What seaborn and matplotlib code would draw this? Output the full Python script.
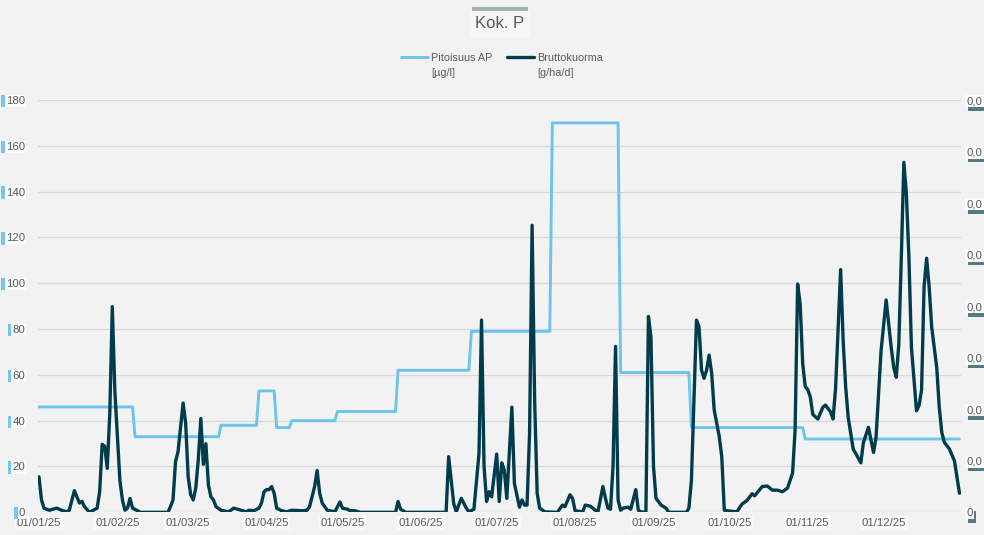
import numpy as np
import pandas as pd
import seaborn as sns
import matplotlib.pyplot as plt
import matplotlib.patheffects as pe
from matplotlib.patches import Rectangle

# Pitoisuus AP [ug/l] - step levels, first day of each level (0 = 1.1.2025)
ap_start_day = [0, 38, 72, 87, 94, 100, 118, 142, 171, 203, 230, 258, 303]
ap_value = [46, 33, 38, 53, 37, 40, 44, 62, 79, 170, 61, 37, 32]

# Bruttokuorma at its turning points (unit 0.001 g/ha/d)
brutto_day = [0, 1, 2, 4, 7, 9, 11, 12, 14, 15, 16, 17, 18, 20, 23, 24, 25, 26, 27, 28,
              29, 30, 32, 33, 34, 35, 36, 37, 39, 40, 51, 52, 53, 54, 55, 56, 57, 58, 59, 60,
              61, 62, 63, 64, 65, 66, 67, 68, 69, 70, 72, 75, 77, 80, 82, 83, 85, 87, 88, 89,
              90, 91, 92, 93, 94, 96, 98, 100, 104, 106, 107, 109, 110, 111, 112, 114, 117, 119, 120, 122,
              123, 125, 127, 141, 142, 143, 145, 161, 162, 164, 165, 167, 169, 170, 172, 174, 175, 176, 177, 178,
              179, 181, 182, 183, 184, 185, 187, 188, 190, 191, 192, 193, 194, 195, 196, 197, 198, 200, 205, 207,
              208, 210, 211, 212, 215, 216, 218, 220, 221, 223, 224, 225, 226, 227, 228, 229, 230, 231, 233, 234,
              236, 237, 238, 240, 241, 242, 243, 244, 246, 248, 249, 256, 257, 258, 260, 261, 262, 263, 264, 265,
              266, 267, 269, 270, 271, 272, 276, 278, 280, 282, 283, 286, 288, 290, 292, 294, 296, 298, 299, 300,
              301, 302, 303, 304, 305, 306, 308, 310, 311, 313, 314, 315, 317, 318, 319, 320, 322, 323, 325, 326,
              328, 330, 331, 333, 335, 337, 338, 339, 340, 341, 342, 343, 344, 345, 347, 348, 349, 350, 351, 352,
              353, 355, 356, 357, 358, 360, 362, 364]
brutto_val = [0.69, 0.24, 0.08, 0.04, 0.08, 0.04, 0.01, 0.04, 0.42, 0.30, 0.18, 0.21, 0.11, 0.00, 0.08, 0.40, 1.32, 1.28, 0.85, 1.91,
              3.99, 2.36, 0.62, 0.24, 0.04, 0.08, 0.27, 0.08, 0.03, 0.00, 0.00, 0.11, 0.24, 0.98, 1.18, 1.66, 2.12, 1.73, 0.69, 0.34,
              0.24, 0.47, 1.02, 1.82, 0.93, 1.33, 0.53, 0.30, 0.24, 0.11, 0.04, 0.01, 0.08, 0.04, 0.01, 0.04, 0.03, 0.08, 0.18, 0.40,
              0.44, 0.44, 0.50, 0.37, 0.08, 0.03, 0.01, 0.04, 0.03, 0.04, 0.11, 0.50, 0.81, 0.37, 0.18, 0.04, 0.01, 0.20, 0.08, 0.06,
              0.03, 0.03, 0.00, 0.00, 0.21, 0.06, 0.00, 0.00, 1.08, 0.17, 0.01, 0.27, 0.08, 0.01, 0.06, 1.14, 3.73, 0.89, 0.21, 0.40,
              0.30, 1.13, 0.21, 0.96, 0.82, 0.27, 2.04, 0.56, 0.10, 0.24, 0.14, 0.14, 1.53, 5.57, 2.18, 0.37, 0.08, 0.01, 0.00, 0.14,
              0.11, 0.34, 0.27, 0.03, 0.01, 0.14, 0.12, 0.04, 0.00, 0.50, 0.27, 0.08, 0.06, 0.89, 3.22, 0.24, 0.04, 0.08, 0.10, 0.06,
              0.44, 0.04, 0.01, 0.00, 3.80, 3.40, 0.89, 0.27, 0.14, 0.08, 0.00, 0.00, 0.08, 0.62, 3.73, 3.60, 2.76, 2.60, 2.76, 3.05,
              2.70, 1.99, 1.47, 1.08, 0.04, 0.03, 0.01, 0.16, 0.23, 0.36, 0.32, 0.50, 0.51, 0.43, 0.43, 0.40, 0.47, 0.76, 1.60, 4.43,
              4.04, 2.89, 2.44, 2.38, 2.24, 1.90, 1.81, 2.04, 2.08, 1.95, 1.81, 2.40, 4.71, 3.33, 2.43, 1.84, 1.22, 1.14, 0.96, 1.35,
              1.65, 1.16, 1.45, 3.14, 4.12, 3.20, 2.81, 2.62, 3.26, 4.95, 6.79, 6.18, 4.95, 3.20, 1.97, 2.07, 2.37, 4.38, 4.93, 4.38,
              3.60, 2.81, 2.04, 1.55, 1.36, 1.23, 1.00, 0.37]

series_names = ['Pitoisuus AP', 'Bruttokuorma']
series_units = ['[µg/l]', '[g/ha/d]']
month_labels = ['01/01/25', '01/02/25', '01/03/25', '01/04/25', '01/05/25', '01/06/25',
                '01/07/25', '01/08/25', '01/09/25', '01/10/25', '01/11/25', '01/12/25']
left_ticks = [0, 20, 40, 60, 80, 100, 120, 140, 160, 180]
right_ticks = [0, 1, 2, 3, 4, 5, 6, 7, 8]

# colours
bg = '#f2f2f2'
light_blue = '#6cc4ea'
dark_teal = '#003c4c'
txt = '#595959'

sns.set_style("white", {"axes.facecolor": bg, "figure.facecolor": bg})
plt.rcParams['font.family'] = ['Liberation Sans', 'DejaVu Sans']

start = pd.Timestamp('2025-01-01')
dates = pd.date_range(start, periods=365, freq='D')
ap_daily = np.repeat(ap_value, np.diff(ap_start_day + [365]))
ap_df = pd.DataFrame({'date': dates, 'ap': ap_daily})
brutto_df = pd.DataFrame({'date': start + pd.to_timedelta(brutto_day, unit='D'),
                          'brutto': brutto_val})

fig = plt.figure(figsize=(9.84, 5.35), dpi=100)
ax = fig.add_axes([37.7 / 984, 22.7 / 535, (961 - 37.7) / 984, (512.3 - 100) / 535])
ax2 = ax.twinx()

sns.lineplot(data=ap_df, x='date', y='ap', ax=ax, color=light_blue, lw=2.1,
             label=series_names[0], legend=False)
sns.lineplot(data=brutto_df, x='date', y='brutto', ax=ax2, color=dark_teal, lw=2.4,
             label=series_names[1], legend=False)

ax.set_xlim(start - pd.Timedelta(hours=12), start + pd.Timedelta(days=364.6))
ax.set_ylim(0, 180)
ax2.set_ylim(0, 8)
ax.set_xlabel('')
ax.set_ylabel('')
ax2.set_ylabel('')

ax.set_xticks(pd.date_range(start, periods=12, freq='MS'))
ax.set_xticklabels(month_labels)
ax.set_yticks(left_ticks)
ax.set_yticklabels([str(v) for v in left_ticks])
ax2.set_yticks(right_ticks)
ax2.set_yticklabels(['0'] + ['0,0' for v in right_ticks[1:]])

ax.grid(axis='y', color='#d9d9d9', lw=0.9)
ax.grid(axis='x', visible=False)
ax2.grid(False)
for a in (ax, ax2):
    for s in a.spines.values():
        s.set_visible(False)
ax.tick_params(axis='x', length=0, pad=4, labelsize=8.2, labelcolor=txt)
ax.tick_params(axis='y', length=0, pad=9, labelsize=8.2, labelcolor=txt)
ax2.tick_params(axis='y', length=0, pad=4, labelsize=8.2, labelcolor=txt)

# the little text effects of the original
for lab in ax.get_yticklabels():
    lab.set_bbox(dict(boxstyle='square,pad=0.1', fc='#fafafa', ec='none'))
    lab.get_bbox_patch().set_path_effects(
        [pe.SimplePatchShadow(offset=(-2.5, 0), shadow_rgbFace='#62c0ec', alpha=0.85), pe.Normal()])
for lab in ax2.get_yticklabels():
    lab.set_bbox(dict(boxstyle='square,pad=0.1', fc='#fafafa', ec='none'))
    lab.get_bbox_patch().set_path_effects(
        [pe.SimplePatchShadow(offset=(1.5, -2.5), shadow_rgbFace='#2f5c66', alpha=0.8), pe.Normal()])
for lab in ax.get_xticklabels():
    lab.set_bbox(dict(boxstyle='square,pad=0.15', fc='#f9f9f9', ec='none'))

# title in its box
fig.text(500 / 984, 1 - 24 / 535, 'Kok. P', ha='center', va='center', fontsize=12, color=txt,
         bbox=dict(boxstyle='square,pad=0.3', fc='#f6f6f6', ec='none'))
fig.patches.append(Rectangle((472 / 984, 1 - 11 / 535), 56 / 984, 4 / 535,
                             transform=fig.transFigure, fc='#a3b4b7', ec='none'))

# legend: handle on the name line, unit on a second line under the name
h1, l1 = ax.get_legend_handles_labels()
h2, l2 = ax2.get_legend_handles_labels()
leg = fig.legend(h1 + h2, l1 + l2, loc='center', bbox_to_anchor=(502 / 984, 1 - 58 / 535),
                 ncol=2, frameon=False, fontsize=7.8, labelcolor=txt, handlelength=2.5,
                 handletextpad=0.28, columnspacing=1.4, borderpad=0)
fig.canvas.draw()
renderer = fig.canvas.get_renderer()
for t, unit in zip(leg.get_texts(), series_units):
    bb = t.get_window_extent(renderer)
    fig.text(bb.x0 / 984, 1 - 73 / 535, unit, ha='left', va='center', fontsize=7.8, color=txt)

fig.savefig('out.png', dpi=100, facecolor=bg)
